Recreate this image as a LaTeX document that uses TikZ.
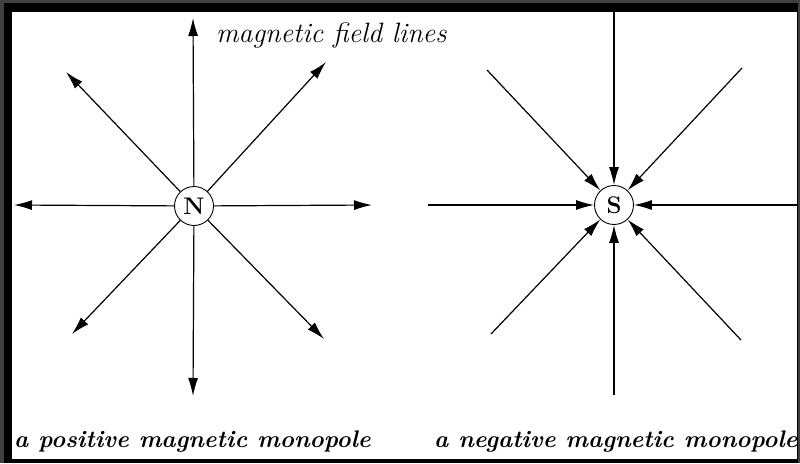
\documentclass[tikz,border=0pt]{standalone}
\usepackage{fontspec}
\usetikzlibrary{arrows.meta}
\begin{document}
\begin{tikzpicture}[
x=1pt,
y=-1pt,
pole/.style={
circle,
draw=black,
line width=0.9pt,
fill=white,
inner sep=0pt,
minimum size=39pt,
font=\fontsize{24}{24}\selectfont\bfseries
},
field/.style={
line width=1.2pt,
-{Latex[length=18pt,width=10pt]}
},
caption/.style={
anchor=base west,
inner sep=0pt,
font=\fontsize{24}{27}\selectfont\bfseries\itshape
}
]

% frame
\fill[black!75] (0,0) rectangle (800,463);
\fill[black] (4,3) rectangle (798,463);
\fill[white] (12,12) rectangle (797,459);
\useasboundingbox (0,0) rectangle (800,463);

\node[pole] (npole) at (194,206) {N};
\node[pole] (spole) at (614,205) {S};

% field lines leaving the north pole
\foreach \name/\px/\py in {nup/193/18, ndown/193/396, nleft/14/205, nright/372/205,
  nne/326/62, nnw/66/72, nsw/72/334, nse/324/339}
{
  \coordinate (\name) at (\px,\py);
  \draw[field] (npole) -- (\name);
}

% field lines entering the south pole
\foreach \name/\px/\py in {sup/614/12, sdown/614/395, sleft/428/205, sright/797/205,
  sne/742/68, snw/487/70, ssw/491/334, sse/741/340}
{
  \coordinate (\name) at (\px,\py);
  \draw[field] (\name) -- (spole);
}

\node[anchor=west, inner sep=0pt, font=\fontsize{28}{30}\selectfont\itshape] (fieldlabel) at (216,35)
{magnetic field lines};

\node[caption] (poslabel) at (14,447)
{a positive magnetic monopole};

\node[caption] (neglabel) at (434,447)
{a negative magnetic monopole};

\end{tikzpicture}
\end{document}
